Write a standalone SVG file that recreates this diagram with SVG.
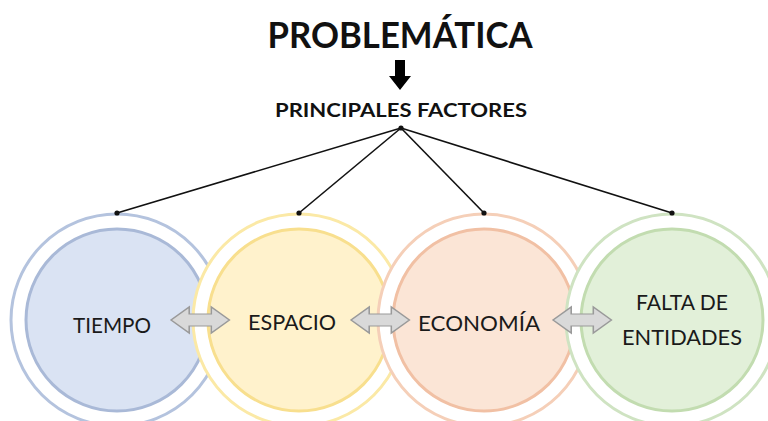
<svg xmlns="http://www.w3.org/2000/svg" width="768" height="421" viewBox="0 0 768 421">
<defs>
<style>
.t{font-family:Lato,"Open Sans","Liberation Sans",sans-serif;fill:#1a1a1a;}
.lbl{font-size:22px;text-anchor:middle;}
.hd{font-weight:bold;text-anchor:middle;fill:#111;}
.ln{stroke:#111;stroke-width:1.6;fill:none;}
.dot{fill:#111;}
.dbl{fill:#d9d9d9;stroke:#9a9a9a;stroke-width:1.2;}
.outer{fill:#fff;stroke-width:3;}
.inner{stroke-width:3;}
</style>
<path id="dblarrow" d="M0,0 L14,-13 L14,-6 L31,-6 L31,-13 L45,0 L31,13 L31,6 L14,6 L14,13 Z"/>
</defs>
<rect width="768" height="421" fill="#fff"/>
<g id="title">
<text class="t hd" x="400" y="48" font-size="36" textLength="265" lengthAdjust="spacingAndGlyphs">PROBLEMÁTICA</text>
</g>
<g id="arrow-down">
<path d="M395,60 L405,60 L405,76 L411,76 L400,90 L389,76 L395,76 Z" fill="#000"/>
</g>
<g id="factores">
<text class="t hd" x="401" y="117" font-size="18" textLength="252" lengthAdjust="spacingAndGlyphs">PRINCIPALES FACTORES</text>
</g>
<g id="tiempo">
<circle class="outer" cx="117" cy="320" r="106" stroke="#b4c3de"/>
<circle class="inner" cx="117" cy="320" r="91" fill="#dae3f3" stroke="#a9b9d7"/>
<text class="t lbl" x="112" y="333" textLength="78" lengthAdjust="spacingAndGlyphs">TIEMPO</text>
</g>
<g id="espacio">
<circle class="outer" cx="299" cy="320" r="106" stroke="#fbe9a6"/>
<circle class="inner" cx="299" cy="320" r="91" fill="#fff2cc" stroke="#f8df8e"/>
<text class="t lbl" x="292" y="330" textLength="88" lengthAdjust="spacingAndGlyphs">ESPACIO</text>
</g>
<g id="economia">
<circle class="outer" cx="484" cy="320" r="106" stroke="#f5cfb8"/>
<circle class="inner" cx="484" cy="320" r="91" fill="#fbe5d6" stroke="#f1c0a4"/>
<text class="t lbl" x="479" y="331" textLength="122" lengthAdjust="spacingAndGlyphs">ECONOMÍA</text>
</g>
<g id="falta-de-entidades">
<circle class="outer" cx="672" cy="320" r="106" stroke="#cfe3c2"/>
<circle class="inner" cx="672" cy="320" r="91" fill="#e2f0d9" stroke="#c2dcb0"/>
<text class="t lbl" x="682" y="310" textLength="92" lengthAdjust="spacingAndGlyphs">FALTA DE</text>
<text class="t lbl" x="682" y="345" textLength="120" lengthAdjust="spacingAndGlyphs">ENTIDADES</text>
</g>
<g id="connectors">
<line class="ln" x1="401" y1="128" x2="117" y2="213"/>
<line class="ln" x1="401" y1="128" x2="299" y2="213"/>
<line class="ln" x1="401" y1="128" x2="484" y2="213"/>
<line class="ln" x1="401" y1="128" x2="672" y2="213"/>
<circle class="dot" cx="401" cy="128" r="2.6"/>
<circle class="dot" cx="117" cy="213" r="2.6"/>
<circle class="dot" cx="299" cy="213" r="2.6"/>
<circle class="dot" cx="484" cy="213" r="2.6"/>
<circle class="dot" cx="672" cy="213" r="2.6"/>
<use href="#dblarrow" class="dbl" transform="translate(171,320) scale(1.3,1)"/>
<use href="#dblarrow" class="dbl" transform="translate(351,320) scale(1.3,1)"/>
<use href="#dblarrow" class="dbl" transform="translate(553,320) scale(1.3,1)"/>
</g>
</svg>
